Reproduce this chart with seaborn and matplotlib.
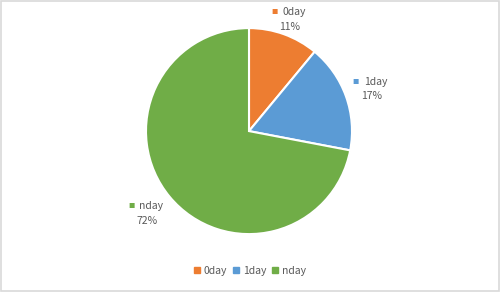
import numpy as np
import matplotlib
matplotlib.use("Agg")
import matplotlib.pyplot as plt
from matplotlib.patches import Rectangle
from matplotlib.lines import Line2D
import seaborn as sns

categories = ["0day", "1day", "nday"]
values = [11, 17, 72]
pct_labels = ["11%", "17%", "72%"]

sns.set_theme(style="white")
plt.rcParams['font.family'] = ['Noto Sans CJK KR', 'DejaVu Sans']
colors = sns.color_palette(["#ED7D31", "#5B9BD5", "#70AD47"])
text_color = "#595959"

fig = plt.figure(figsize=(5.0, 2.92), dpi=100)
ax = fig.add_axes([0.498 - 0.206, 0.551 - 0.3527, 0.412, 0.7055])
wedges, _ = ax.pie(values, colors=colors, startangle=90, counterclock=False,
                   wedgeprops=dict(edgecolor="white", linewidth=1.5))
ax.set_aspect("equal")
ax.set_xlim(-1, 1)
ax.set_ylim(-1, 1)
ax.axis("off")

label_r = [1.17, 1.26, 1.29]
label_dy = [0, 0, 3]
cum = np.cumsum([0] + values[:-1])
for i, (cat, v) in enumerate(zip(categories, values)):
    mid = (cum[i] + v / 2) / sum(values) * 2 * np.pi
    x = label_r[i] * np.sin(mid)
    y = label_r[i] * np.cos(mid)
    ax.annotate(cat, (x, y), xytext=(3, 4 + label_dy[i]), textcoords="offset points",
                ha="center", va="center", fontsize=7.5, color=text_color,
                annotation_clip=False)
    ax.annotate(pct_labels[i], (x, y), xytext=(0, -6.5 + label_dy[i]), textcoords="offset points",
                ha="center", va="center", fontsize=7.5, color=text_color,
                annotation_clip=False)
    ax.annotate("■", (x, y), xytext=(-11, 4 + label_dy[i]), textcoords="offset points",
                ha="center", va="center", fontsize=4.5, color=colors[i],
                annotation_clip=False)

handles = [Line2D([0], [0], marker="s", linestyle="", markersize=4.5,
                  markerfacecolor=c, markeredgecolor=c) for c in colors]
leg = fig.legend(handles, categories, loc="center", bbox_to_anchor=(0.5, 0.072),
                 ncol=3, frameon=False, fontsize=7.5, handlelength=0.6,
                 handletextpad=0.3, columnspacing=0.6)
for t in leg.get_texts():
    t.set_color(text_color)

fig.patches.append(Rectangle((0.002, 0.003), 0.996, 0.994, transform=fig.transFigure,
                             fill=False, edgecolor="#D9D9D9", linewidth=1.2))
fig.savefig("out.png", dpi=100)
